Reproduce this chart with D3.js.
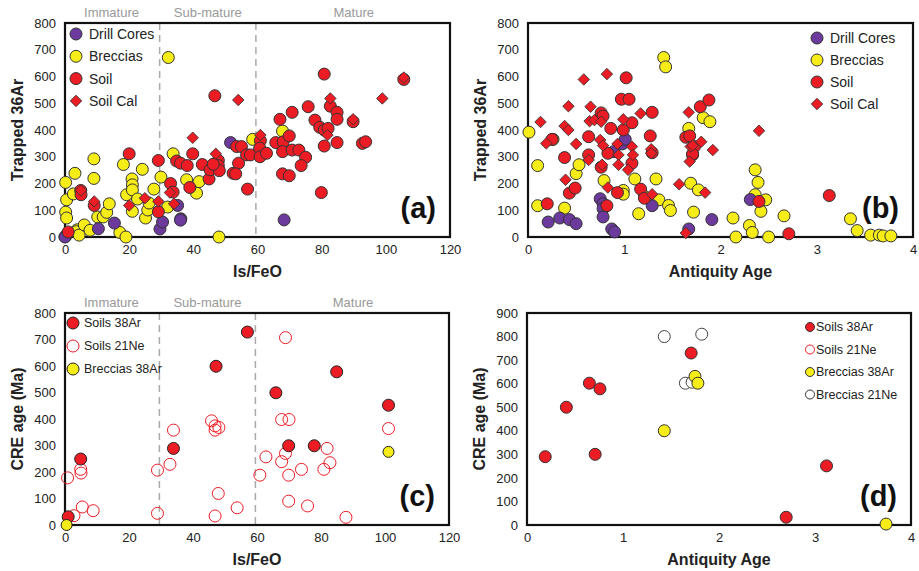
<!DOCTYPE html>
<html>
<head>
<meta charset="utf-8">
<script src="https://cdn.jsdelivr.net/npm/d3@7"></script>
<style>
  body { margin: 0; background: #fff; }
  text { font-family: Arial, "Liberation Sans", sans-serif; }
</style>
</head>
<body>
<script>
// ---- data ----
// panel (a): Is/FeO vs trapped 36Ar
var aDrill = [[0,0],[10.4,31],[15.4,52],[29.6,30],[30.4,56],[35.1,118],[36.1,68],[36,63],[51.6,353],[60.7,325],[68.3,64]];
var aBreccia = [[0.2,204],[0.5,139],[0.2,93],[0.5,71],[0.3,4],[0,1],[3.1,238],[2.6,161],[3.8,27],[3.6,20],[4.4,7],[6,45],[7.8,25],
  [9,292],[9,219],[10.2,75],[11.9,75],[13,92],[13.8,124],[17.1,17],[19,0],[18.2,271],[19.2,158],[20.9,217],[21,195],[21,176],
  [21,96],[22.6,142],[24.1,253],[25.1,71],[25.8,101],[26.2,127],[27.7,179],[29.9,224],[32.2,671],[32,112],[33.7,311],
  [37.9,214],[41,164],[41.8,207],[48,0],[58.5,365],[67.8,396]];
var aSoil = [[1,19],[4.9,174],[5,158],[9.1,118],[20,311],[29.1,286],[29.1,94],[32.9,200],[33.7,168],[34.8,284],[36,276],
  [38.1,267],[38.9,185],[39.8,311],[42.8,271],[44.9,217],[45.2,251],[46.7,528],[47.8,286],[47.8,267],[48.1,248],[46.2,272],
  [52.4,238],[53.5,338],[55,338],[54.1,276],[53.2,236],[56.9,179],[56.6,307],[57.8,307],[60.9,360],[60.7,332],[60.8,300],
  [62.8,313],[67,440],[70.8,466],[65.7,353],[68,356],[69.9,378],[67.8,319],[70.8,325],[72.9,325],[75,298],[73.6,267],
  [67.8,236],[69.9,229],[75.8,487],[77.9,437],[79.4,410],[80.8,400],[82,406],[80.8,340],[80.8,609],[82.7,489],[84.8,466],
  [84.8,440],[84.8,353],[89.8,431],[92.7,350],[93.7,356],[105.6,589],[79.9,166]];
var aSoilCal = [[5,174],[9.1,133],[20,118],[24.9,145],[29.1,133],[32.7,166],[34,124],[39.8,371],[47,311],[54,512],
  [60.9,381],[82.7,518],[81.8,381],[89.8,440],[98.9,518],[105.6,596]];

// panel (b): antiquity age vs trapped 36Ar
var bDrill = [[0.21,56],[0.33,71],[0.43,65],[0.5,50],[0.75,143],[0.78,124],[0.78,106],[0.78,75],[0.87,30],[0.9,19],
  [0.89,319],[0.98,348],[1.01,365],[1.29,117],[1.67,30],[2.31,140],[1.91,65]];
var bBreccia = [[0.01,392],[0.1,267],[0.1,117],[0.26,365],[0.38,108],[0.5,237],[0.53,270],[0.79,211],[0.99,174],[0.99,160],
  [1.11,217],[1.15,87],[1.21,152],[1.33,217],[1.36,139],[1.46,118],[1.48,99],[1.41,671],[1.43,636],[1.67,406],[1.69,201],
  [1.72,93],[1.77,176],[1.82,446],[1.89,431],[2.13,71],[2.16,0],[2.36,251],[2.39,204],[2.36,158],[2.47,139],[2.42,96],
  [2.3,43],[2.33,17],[2.5,0],[2.66,79],[3.35,68],[3.42,24],[3.56,7],[3.65,7],[3.69,4],[3.77,4]];
var bSoil = [[0.2,124],[0.25,365],[0.38,297],[0.43,164],[0.49,183],[0.63,375],[0.63,307],[0.76,464],[0.78,452],[0.76,261],
  [0.83,313],[0.86,406],[0.82,117],[0.93,166],[0.97,515],[1.05,515],[1.02,595],[0.99,400],[1.08,427],[1.08,276],
  [1.17,179],[1.21,145],[1.29,466],[1.27,378],[1.29,315],[1.64,373],[1.68,378],[1.71,307],[1.73,338],[1.79,487],
  [1.88,512],[1.71,310],[2.4,133],[2.71,12],[3.13,155]];
var bSoilCal = [[0.13,430],[0.19,350],[0.38,415],[0.42,489],[0.42,400],[0.39,214],[0.5,348],[0.58,589],[0.63,288],[0.65,487],
  [0.64,433],[0.69,437],[0.76,431],[0.75,363],[0.78,342],[0.77,270],[0.82,609],[0.83,185],[0.94,307],[0.94,270],[0.93,348],
  [0.99,440],[1.08,338],[1.09,307],[1.04,251],[1.17,462],[1.28,328],[1.28,313],[1.29,160],[1.57,197],[1.67,466],[1.69,338],
  [1.68,282],[1.64,15],[1.71,342],[1.8,356],[1.92,325],[1.84,166],[2.4,397]];

// panel (c): Is/FeO vs CRE age
var cSoil38 = [[1,31],[4.9,249],[33.9,289],[47.2,599],[57,728],[65.9,499],[84.9,578],[101.1,452],[69.9,299],[77.9,299]];
var cSoil21 = [[0.8,178],[2.8,35],[5.4,68],[4.9,210],[5,196],[8.8,54],[28.9,44],[28.9,207],[32.8,229],[33.9,358],[45.8,393],
  [46.9,358],[46.9,374],[48.1,368],[47.9,119],[46.9,34],[53.8,65],[68.9,707],[67.7,398],[70,398],[62.8,257],[60.9,188],
  [68.9,270],[67.7,239],[69.9,188],[69.9,90],[73.9,210],[75.8,72],[80.9,210],[81.9,289],[82.8,235],[87.8,29],[101.1,364]];
var cBreccia38 = [[0.5,0],[101.1,276]];

// panel (d): antiquity age vs CRE age
var dSoil38 = [[0.19,290],[0.41,500],[0.65,602],[0.76,578],[0.71,300],[1.71,730],[3.12,251],[2.7,33]];
var dBreccia38 = [[1.43,400],[1.75,631],[1.78,602],[3.74,4]];
var dBreccia21 = [[1.43,800],[1.65,602],[1.72,606],[1.82,810]];

var maturityLines = [29.5, 59.5];
var maturityNames = ["Immature", "Sub-mature", "Mature"];
var maturityMids = [14.5, 44.5, 90];

var purple = "#6b3a9c", yellow = "#f6ec17", red = "#ec1c24";

var svg = d3.select("body").append("svg")
    .attr("width", 919)
    .attr("height", 571);

// draws one panel frame + axes, returns scales
function drawPanel(p) {
    var x = d3.scaleLinear().domain(p.xDomain).range([p.left, p.right]);
    var y = d3.scaleLinear().domain(p.yDomain).range([p.bottom, p.top]);
    var g = svg.append("g");

    var xAxis = g.append("g").attr("transform", "translate(0," + p.bottom + ")")
        .call(d3.axisBottom(x).tickValues(p.xTicks).tickFormat(d3.format("d")).tickSize(0).tickPadding(8));
    var yAxis = g.append("g").attr("transform", "translate(" + p.left + ",0)")
        .call(d3.axisLeft(y).tickValues(p.yTicks).tickFormat(d3.format("d")).tickSize(0).tickPadding(9));
    [xAxis, yAxis].forEach(function (a) {
        a.select(".domain").remove();
        a.selectAll("text").attr("font-size", 13).attr("fill", "#222")
            .attr("font-family", "Arial, 'Liberation Sans', sans-serif");
    });

    if (p.maturity) {
        maturityLines.forEach(function (v) {
            g.append("line").attr("x1", x(v)).attr("x2", x(v))
                .attr("y1", p.top).attr("y2", p.bottom)
                .attr("stroke", "#aaa").attr("stroke-width", 1.5).attr("stroke-dasharray", "7,5");
        });
        maturityMids.forEach(function (m, i) {
            g.append("text").attr("x", x(m)).attr("y", p.top - 6)
                .attr("text-anchor", "middle").attr("font-size", 13).attr("fill", "#999")
                .text(maturityNames[i]);
        });
    }

    // frame
    g.append("rect").attr("x", p.left).attr("y", p.top)
        .attr("width", p.right - p.left).attr("height", p.bottom - p.top)
        .attr("fill", "none").attr("stroke", "#111").attr("stroke-width", 2.2);

    g.append("text").attr("x", (p.left + p.right) / 2).attr("y", p.bottom + 40)
        .attr("text-anchor", "middle").attr("font-size", 16).attr("font-weight", "bold")
        .attr("fill", "#222").text(p.xTitle);
    g.append("text")
        .attr("transform", "translate(" + (p.left - 42) + "," + ((p.top + p.bottom) / 2) + ") rotate(-90)")
        .attr("text-anchor", "middle").attr("font-size", 16).attr("font-weight", "bold")
        .attr("fill", "#222").text(p.yTitle);
    g.append("text").attr("x", p.right - 14).attr("y", p.bottom - 19)
        .attr("text-anchor", "end").attr("font-size", 29).attr("font-weight", "bold")
        .attr("fill", "#111").text(p.tag);

    return {x: x, y: y, g: g};
}

function circles(s, data, fill, stroke, r) {
    s.g.append("g").selectAll("circle").data(data).enter().append("circle")
        .attr("cx", function (d) { return s.x(d[0]); })
        .attr("cy", function (d) { return s.y(d[1]); })
        .attr("r", r || 6)
        .attr("fill", fill).attr("stroke", stroke).attr("stroke-width", 1);
}

var diamondPath = d3.symbol().type(d3.symbolSquare).size(66);

function diamonds(s, data, fill, stroke) {
    s.g.append("g").selectAll("path").data(data).enter().append("path")
        .attr("d", diamondPath)
        .attr("transform", function (d) { return "translate(" + s.x(d[0]) + "," + s.y(d[1]) + ") rotate(45)"; })
        .attr("fill", fill).attr("stroke", stroke).attr("stroke-width", 0.8);
}

function legend(x0, y0, dy, items, fontSize, gap) {
    items.forEach(function (it, i) {
        var cy = y0 + i * dy;
        if (it.shape == "diamond") {
            svg.append("path").attr("d", diamondPath)
                .attr("transform", "translate(" + x0 + "," + cy + ") rotate(45)")
                .attr("fill", it.fill).attr("stroke", it.stroke).attr("stroke-width", 0.8);
        } else {
            svg.append("circle").attr("cx", x0).attr("cy", cy).attr("r", it.r || 6)
                .attr("fill", it.fill).attr("stroke", it.stroke).attr("stroke-width", 1);
        }
        svg.append("text").attr("x", x0 + gap).attr("y", cy).attr("dy", "0.35em")
            .attr("font-size", fontSize).attr("fill", "#222").text(it.label);
    });
}

// ---- panel (a) ----
var pa = drawPanel({left: 65, right: 450, top: 23, bottom: 237, xDomain: [0, 120], yDomain: [0, 800],
    xTicks: [0, 20, 40, 60, 80, 100, 120], yTicks: d3.range(0, 801, 100),
    xTitle: "Is/FeO", yTitle: "Trapped 36Ar", tag: "(a)", maturity: true});
circles(pa, aBreccia, yellow, "#333");
circles(pa, aDrill, purple, "#333");
circles(pa, aSoil, red, "#333");
diamonds(pa, aSoilCal, red, "#333");
var abItems = [{label: "Drill Cores", fill: purple, stroke: "#333"},
    {label: "Breccias", fill: yellow, stroke: "#333"},
    {label: "Soil", fill: red, stroke: "#333"},
    {label: "Soil Cal", fill: red, stroke: "#333", shape: "diamond"}];
legend(76, 34, 22.3, abItems, 14, 13);

// ---- panel (b) ----
var pb = drawPanel({left: 528, right: 913, top: 23, bottom: 237, xDomain: [0, 4], yDomain: [0, 800],
    xTicks: [0, 1, 2, 3, 4], yTicks: d3.range(0, 801, 100),
    xTitle: "Antiquity Age", yTitle: "Trapped 36Ar", tag: "(b)"});
circles(pb, bBreccia, yellow, "#333");
circles(pb, bDrill, purple, "#333");
circles(pb, bSoil, red, "#333");
diamonds(pb, bSoilCal, red, "#333");
legend(817, 38, 22, abItems, 14, 13);

// ---- panel (c) ----
var pc = drawPanel({left: 65, right: 449, top: 313, bottom: 525, xDomain: [0, 120], yDomain: [0, 800],
    xTicks: [0, 20, 40, 60, 80, 100, 120], yTicks: d3.range(0, 801, 100),
    xTitle: "Is/FeO", yTitle: "CRE age (Ma)", tag: "(c)", maturity: true});
circles(pc, cSoil21, "none", red, 6);
circles(pc, cSoil38, red, "#222", 6);
circles(pc, cBreccia38, yellow, "#222", 5.5);
legend(73, 323, 23, [{label: "Soils 38Ar", fill: red, stroke: "#222"},
    {label: "Soils 21Ne", fill: "none", stroke: red},
    {label: "Breccias 38Ar", fill: yellow, stroke: "#222"}], 12.5, 11);

// ---- panel (d) ----
var pd = drawPanel({left: 527, right: 911, top: 313, bottom: 525, xDomain: [0, 4], yDomain: [0, 900],
    xTicks: [0, 1, 2, 3, 4], yTicks: d3.range(0, 901, 100),
    xTitle: "Antiquity Age", yTitle: "CRE age (Ma)", tag: "(d)"});
circles(pd, dBreccia21, "#fff", "#444", 6);
circles(pd, dSoil38, red, "#333", 6);
circles(pd, dBreccia38, yellow, "#333", 6);
legend(810, 327, 22.5, [{label: "Soils 38Ar", fill: red, stroke: "#333", r: 4.5},
    {label: "Soils 21Ne", fill: "none", stroke: red, r: 4.5},
    {label: "Breccias 38Ar", fill: yellow, stroke: "#333", r: 4.5},
    {label: "Breccias 21Ne", fill: "none", stroke: "#333", r: 4.5}], 12.5, 6);
</script>
</body>
</html>
